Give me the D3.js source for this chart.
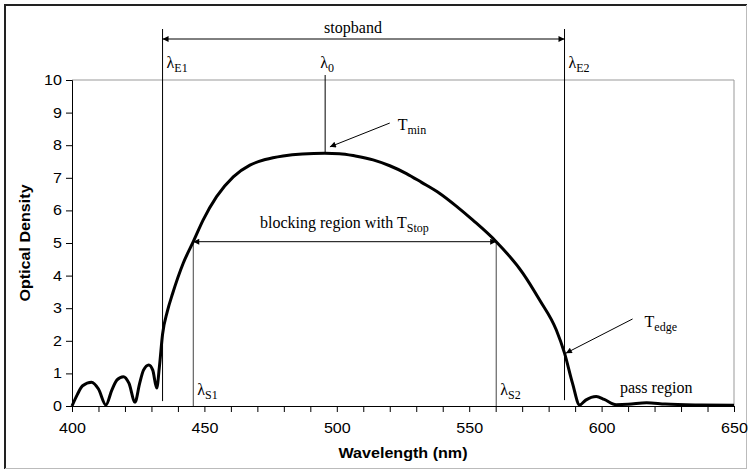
<!DOCTYPE html>
<html>
<head>
<meta charset="utf-8">
<script src="https://cdn.jsdelivr.net/npm/d3@7"></script>
<style>
  body { margin: 0; background: #fff; }
  .note { font-family: "Liberation Serif", "Times New Roman", serif; font-size: 16px; fill: #000; }
  .sans { font-family: "Liberation Sans", Arial, sans-serif; font-size: 14px; fill: #000; }
</style>
</head>
<body>
<div id="chart"></div>
<script>
// spectrum (wavelength nm, optical density)
var wavelength = [400, 402, 404, 407.4, 410, 412.8, 415, 417, 419.4, 421.5, 423.8, 425.5, 427, 429, 430.5, 432, 433,
  434.2, 436, 438, 442, 445.8, 449.5, 454.6, 460.9, 467.2, 473, 479.7, 487, 495.5, 501, 507, 513.7, 520, 526.3, 532, 538.9, 545, 551.4, 560.2,
  570.3, 576.6, 582.9, 586, 589, 591.7, 594, 598, 601, 605.5, 610, 617, 624, 637.6, 650];
var density = [0, 0.35, 0.62, 0.73, 0.52, 0.03, 0.48, 0.8, 0.9, 0.7, 0.12, 0.68, 1.1, 1.26, 1.1, 0.55, 1.2,
  2.2, 2.9, 3.45, 4.38, 5.04, 5.7, 6.42, 7.03, 7.39, 7.56, 7.67, 7.73, 7.75, 7.74, 7.67, 7.55, 7.37, 7.13, 6.86, 6.52, 6.14, 5.7, 5.04,
  4.07, 3.25, 2.33, 1.62, 0.7, 0.03, 0.18, 0.29, 0.2, 0.04, 0.05, 0.1, 0.06, 0.03, 0.02];

// marker wavelengths
var lambdaE1 = 434.2, lambdaE2 = 586, lambda0 = 495.6, lambdaS1 = 445.8, lambdaS2 = 560.2;
var tStop = 5.04, tMin = 7.75, tEdge = 1.62;

var xTicks = [400, 450, 500, 550, 600, 650];
var yTicks = [0, 1, 2, 3, 4, 5, 6, 7, 8, 9, 10];

var width = 750, height = 472;
var margin = {left: 72, right: 16, top: 80, bottom: 66};

var svg = d3.select("#chart").append("svg").attr("width", width).attr("height", height);

// outer frame
svg.append("line").attr("x1", 5).attr("x2", 5).attr("y1", 4).attr("y2", 469).attr("stroke", "#222").attr("stroke-width", 2);
svg.append("line").attr("x1", 4).attr("x2", 747).attr("y1", 5).attr("y2", 5).attr("stroke", "#222").attr("stroke-width", 2);
svg.append("line").attr("x1", 5).attr("x2", 747).attr("y1", 468.5).attr("y2", 468.5).attr("stroke", "#bbb");
svg.append("line").attr("x1", 746.5).attr("x2", 746.5).attr("y1", 5).attr("y2", 469).attr("stroke", "#bbb");

var x = d3.scaleLinear().domain([400, 650]).range([margin.left, width - margin.right]);
var y = d3.scaleLinear().domain([0, 10]).range([height - margin.bottom, margin.top]);

// plot area border (top + right in gray)
svg.append("path")
  .attr("d", "M" + x(400) + "," + y(10) + "H" + x(650) + "V" + y(0))
  .attr("fill", "none").attr("stroke", "#999");

// axes
var xAxis = svg.append("g").attr("transform", "translate(0," + y(0) + ")")
  .call(d3.axisBottom(x).tickValues(d3.range(400, 651, 10)).tickSize(6).tickPadding(8)
    .tickFormat(function(d) { return xTicks.indexOf(d) >= 0 ? d : ""; }));
var yAxis = svg.append("g").attr("transform", "translate(" + x(400) + ",0)")
  .call(d3.axisLeft(y).tickValues(yTicks).tickSize(6).tickPadding(4));
[xAxis, yAxis].forEach(function(a) {
  a.select(".domain").attr("stroke", "#000");
  a.selectAll(".tick line").attr("stroke", "#000");
  a.selectAll(".tick text").attr("class", "sans").attr("font-size", null);
});
xAxis.selectAll(".tick text").attr("dy", "0.95em").attr("transform", "scale(1.15,1)");
yAxis.selectAll(".tick text").attr("x", -10 / 1.15).attr("transform", "scale(1.15,1)");

svg.append("text").attr("class", "sans")
  .attr("transform", "translate(" + (x(400) + x(650)) / 2 + ",458) scale(1.15,1)")
  .attr("text-anchor", "middle").style("font-weight", "bold").text("Wavelength (nm)");
svg.append("text").attr("class", "sans")
  .attr("transform", "translate(30," + y(5) + ") rotate(-90) scale(1.15,1)")
  .attr("text-anchor", "middle").style("font-weight", "bold").text("Optical Density");

// arrow head
svg.append("defs").append("marker").attr("id", "head")
  .attr("viewBox", "0 0 10 10").attr("refX", 10).attr("refY", 5)
  .attr("markerWidth", 9).attr("markerHeight", 6).attr("markerUnits", "userSpaceOnUse")
  .attr("orient", "auto-start-reverse")
  .append("path").attr("d", "M0,0L10,5L0,10z").attr("fill", "#000");

function vline(wl, y1, y2, color) {
  svg.append("line").attr("x1", x(wl)).attr("x2", x(wl)).attr("y1", y1).attr("y2", y2)
    .attr("stroke", color || "#000").attr("stroke-width", 1);
}
vline(lambdaE1, y(10) - 51, y(0.15));
vline(lambdaE2, y(10) - 51, y(0.18));
vline(lambda0, y(10) - 5, y(tMin));
vline(lambdaS1, y(tStop), y(0), "#444");
vline(lambdaS2, y(tStop), y(0), "#444");

function harrow(w1, w2, yy) {
  svg.append("line").attr("x1", x(w1)).attr("x2", x(w2)).attr("y1", yy).attr("y2", yy)
    .attr("stroke", "#000").attr("stroke-width", 1)
    .attr("marker-start", "url(#head)").attr("marker-end", "url(#head)");
}
harrow(lambdaE1, lambdaE2, y(10) - 41);
harrow(lambdaS1, lambdaS2, y(tStop));

// pointer arrows
function pointer(w1, v1, w2, v2) {
  svg.append("line").attr("x1", x(w1)).attr("y1", y(v1)).attr("x2", x(w2)).attr("y2", y(v2))
    .attr("stroke", "#000").attr("stroke-width", 1).attr("marker-end", "url(#head)");
}
pointer(520, 8.68, 497.4, tMin + 0.2);
pointer(611.7, 2.67, lambdaE2 + 0.5, tEdge);

// spectrum curve
var pts = wavelength.map(function(w, i) { return [w, density[i]]; });
svg.append("path").datum(pts)
  .attr("d", d3.line().x(function(d) { return x(d[0]); }).y(function(d) { return y(d[1]); }).curve(d3.curveMonotoneX))
  .attr("fill", "none").attr("stroke", "#000").attr("stroke-width", 3);

// labels
function label(px, py, main, sub) {
  var t = svg.append("text").attr("class", "note").attr("x", px).attr("y", py);
  t.append("tspan").text(main);
  t.append("tspan").attr("dy", 4).style("font-size", "12px").text(sub);
}
label(x(lambdaE1) + 4, 68, "λ", "E1");
label(x(lambda0) - 5, 68, "λ", "0");
label(x(lambdaE2) + 4, 68, "λ", "E2");
label(x(lambdaS1) + 4, 395, "λ", "S1");
label(x(lambdaS2) + 4, 395, "λ", "S2");
label(x(520) + 8, 130, "T", "min");
label(x(611.7) + 12, 327, "T", "edge");

svg.append("text").attr("class", "note").attr("x", 353).attr("y", 33)
  .attr("text-anchor", "middle").text("stopband");
svg.append("text").attr("class", "note").attr("x", 620).attr("y", 393).text("pass region");
var bt = svg.append("text").attr("class", "note").attr("x", 260).attr("y", 228);
bt.append("tspan").text("blocking region with T");
bt.append("tspan").attr("dy", 4).style("font-size", "12px").text("Stop");
</script>
</body>
</html>
